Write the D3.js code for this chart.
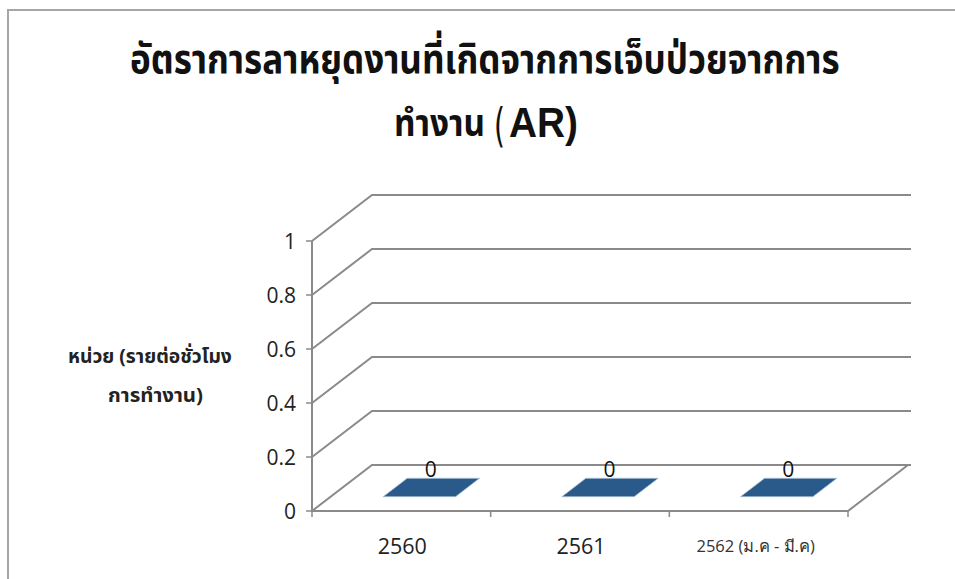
<!DOCTYPE html>
<html><head><meta charset="utf-8">
<script src="https://cdn.jsdelivr.net/npm/d3@7"></script>
<style>body{margin:0;background:#fff;}svg{display:block;}</style>
</head><body>
<svg id="c" width="955" height="579"></svg>
<script>
const categories = ["2560", "2561", "2562 (ม.ค - มี.ค)"];
const values = [0, 0, 0];
const yTicks = [0, 0.2, 0.4, 0.6, 0.8, 1];
const yTickLabels = ["0", "0.2", "0.4", "0.6", "0.8", "1"];
const titleLine1 = "อัตราการลาหยุดงานที่เกิดจากการเจ็บป่วยจากการ";
const titleLine2 = ["ทำงาน", "(", "AR)"];
const yTitleLines = ["หน่วย (รายต่อชั่วโมง", "การทำงาน)"];

const svg = d3.select("#c");
const grid = "#8a8a8a";
const DX = 60, DY = -46;

// outer border
svg.append("path").attr("d", "M8,579 L8,10 L955,10").attr("fill", "none").attr("stroke", "#a6a6a6").attr("stroke-width", 2);

const y = d3.scaleLinear().domain([0, 1]).range([511, 241]);
const x = d3.scaleBand().domain(categories).range([312, 848]);
const x0 = 312, x1 = 848, xBackEnd = 911;

// gridlines: side wall diagonal + back wall horizontal
yTicks.forEach(t => {
  const yy = y(t);
  svg.append("path")
    .attr("d", `M${x0},${yy} L${x0 + DX},${yy + DY} L${xBackEnd},${yy + DY}`)
    .attr("fill", "none").attr("stroke", grid).attr("stroke-width", 2);
});
// floor right edge and front edge
svg.append("path").attr("d", `M${x0},${y(0)} L${x1},${y(0)} L${x1 + DX},${y(0) + DY}`)
  .attr("fill", "none").attr("stroke", grid).attr("stroke-width", 2);
// vertical axis
svg.append("line").attr("x1", x0).attr("x2", x0).attr("y1", y(1)).attr("y2", y(0) + 1)
  .attr("stroke", grid).attr("stroke-width", 2);
// y ticks
yTicks.forEach((t, i) => {
  svg.append("line").attr("x1", x0 - 6).attr("x2", x0).attr("y1", y(t)).attr("y2", y(t))
    .attr("stroke", grid).attr("stroke-width", 1.5);
  svg.append("text").attr("x", 296).attr("y", y(t)).attr("dy", "0.36em")
    .attr("text-anchor", "end").attr("font-family", "'Open Sans', 'Liberation Sans', sans-serif")
    .attr("font-size", 21).attr("fill", "#222").text(yTickLabels[i]);
});
// x ticks
[...categories.map(c => x(c)), x1].forEach(v => {
  svg.append("line").attr("x1", v).attr("x2", v).attr("y1", y(0)).attr("y2", y(0) + 6)
    .attr("stroke", grid).attr("stroke-width", 1.5);
});
// x labels
categories.forEach((c, i) => {
  const small = i === 2;
  svg.append("text").attr("x", x(c) + x.bandwidth() / 2 + (small ? -3 : 1)).attr("y", small ? 552 : 554)
    .attr("text-anchor", "middle").attr("font-family", "'Open Sans', 'Noto Sans', sans-serif")
    .attr("font-size", small ? 16.5 : 21.5).attr("fill", small ? "#333" : "#222").text(c);
});

// bars (zero height: only top face visible)
const barW = x.bandwidth() * 0.405;
const f1 = 0.30, f2 = 0.70;
categories.forEach((c, i) => {
  const cx = x(c) + x.bandwidth() / 2;
  const yv = y(values[i]);
  const p = [
    [cx - barW / 2 + DX * f1, yv + DY * f1 - 0.5],
    [cx + barW / 2 + DX * f1, yv + DY * f1 - 0.5],
    [cx + barW / 2 + DX * f2, yv + DY * f2 - 0.5],
    [cx - barW / 2 + DX * f2, yv + DY * f2 - 0.5]
  ];
  svg.append("polygon").attr("points", p.map(d => d.join(",")).join(" "))
    .attr("fill", "#2a5a8a").attr("stroke", "#a9bfd6").attr("stroke-width", 0.8);
  svg.append("text").attr("x", cx + DX * 0.5 - 0.5).attr("y", yv + DY * 0.5 - 11)
    .attr("text-anchor", "middle").attr("font-family", "'Open Sans', 'Liberation Sans', sans-serif")
    .attr("font-size", 21).attr("fill", "#111").text(String(values[i]));
});

// helper: place text starting at (px,py) squeezed horizontally to width w
function fitText(str, px, py, w, attrs) {
  const t = svg.append("text").attr("x", 0).attr("y", 0).text(str);
  Object.entries(attrs).forEach(([k, v]) => t.attr(k, v));
  const nat = t.node().getComputedTextLength();
  const sx = nat > 0 ? w / nat : 1;
  t.attr("transform", `translate(${px},${py}) scale(${sx},1)`);
  return t;
}

// title
const tf = "'Noto Sans Thai', 'Noto Sans', 'DejaVu Sans', sans-serif";
fitText(titleLine1, 130, 73, 710, {"font-family": tf, "font-weight": "bold", "font-size": 41, "fill": "#111"});
fitText(titleLine2[0], 394, 136, 91, {"font-family": tf, "font-weight": "bold", "font-size": 38, "fill": "#111"});
fitText(titleLine2[1], 494, 141, 11, {"font-family": "'DejaVu Sans', sans-serif", "font-size": 46, "fill": "#111"});
fitText(titleLine2[2], 509, 137, 69, {"font-family": "'Liberation Sans', sans-serif", "font-weight": "bold", "font-size": 42, "fill": "#111"});

// y title
const yPos = [[68, 363, 164], [108, 402, 95]];
yTitleLines.forEach((l, i) => {
  fitText(l, yPos[i][0], yPos[i][1], yPos[i][2], {"font-family": tf, "font-weight": "bold", "font-size": 20, "fill": "#222"});
});
</script>
</body></html>
